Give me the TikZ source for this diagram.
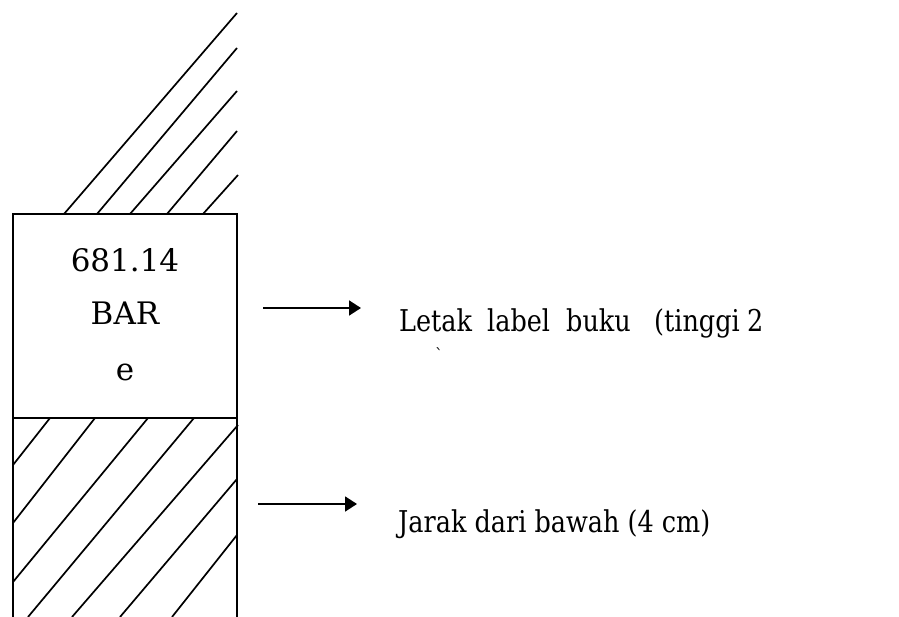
\documentclass[tikz,border=0pt]{standalone}
\usepackage{fontspec}
\setmainfont{DejaVu Serif}
\newfontfamily\descfont{DejaVu Serif}[FakeStretch=0.85]
\usetikzlibrary{arrows.meta}
\begin{document}
\begin{tikzpicture}[x=1pt,y=-1pt,
  edge/.style={line width=1.8pt},
  hatch/.style={line width=1.7pt},
  pointer/.style={line width=1.8pt,-{Triangle[length=12pt,width=15pt]}},
  boxtxt/.style={font=\fontsize{31}{34}\selectfont,inner sep=0pt,anchor=base},
  lbl/.style={font=\descfont\fontsize{30}{34}\selectfont,inner sep=0pt,anchor=base west}]
\useasboundingbox (0,0) rectangle (899,617);
% spine outline
\draw[edge] (13,617) -- (13,214) -- (237,214) -- (237,617);
\draw[line width=2.8pt] (13,418) -- (237,418);
% hatching above the spine
\draw[hatch] (64,214) -- (237,13);
\draw[hatch] (97,214) -- (237,48);
\draw[hatch] (130,214) -- (237,91);
\draw[hatch] (167,214) -- (237,131);
\draw[hatch] (203,214) -- (238,175);
% hatching in the lower part
\draw[hatch] (50,418) -- (13,465);
\draw[hatch] (95,418) -- (13,523);
\draw[hatch] (148,418) -- (13,582);
\draw[hatch] (194,418) -- (28,617);
\draw[hatch] (238,425) -- (72,617);
\draw[hatch] (237,479) -- (120,617);
\draw[hatch] (237,535) -- (172,617);
% call number
\node[boxtxt] (num) at (125,272) {681.14};
\node[boxtxt] (bar) at (125,325) {BAR};
\node[boxtxt] (e) at (125,380) {e};
% arrows
\coordinate (a1s) at (263,308);
\coordinate (a1e) at (361,308);
\coordinate (a2s) at (258,504);
\coordinate (a2e) at (357,504);
\draw[pointer] (a1s) -- (a1e);
\draw[pointer] (a2s) -- (a2e);
% descriptions
\node[lbl] (w1) at (399,332) {Letak};
\node[lbl] (w2) at (487,332) {label};
\node[lbl] (w3) at (566,332) {buku};
\node[lbl] (w4) at (654,332) {(tinggi};
\node[lbl] (w5) at (747,332) {2};
\node[inner sep=0pt,font=\fontsize{16}{18}\selectfont] (tick) at (439,354) {\textasciigrave};
\node[lbl] (jarak) at (398,532) {Jarak dari bawah (4 cm)};
\end{tikzpicture}
\end{document}
